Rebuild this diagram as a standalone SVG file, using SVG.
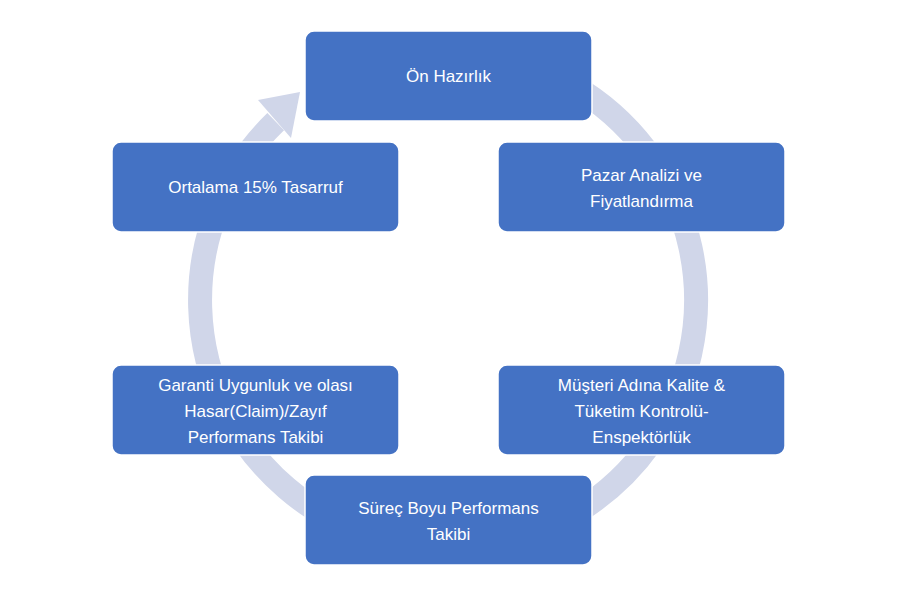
<svg xmlns="http://www.w3.org/2000/svg" width="900" height="600" viewBox="0 0 900 600">
<style>
.box{fill:#4472C4;stroke:#ffffff;stroke-width:1.5}
.t{font-family:"Liberation Sans",Arial,sans-serif;font-size:17px;fill:#ffffff;text-anchor:middle}
.ring{fill:none;stroke:#D0D6E9;stroke-width:24}
</style>
<rect width="900" height="600" fill="#ffffff"/>
<g id="connectors">
<path class="ring" d="M572,85.2 A248,248 0 1 1 275.7,121.7"/>
<polygon points="258,100 300,92 291,138" fill="#D0D6E9"/>
</g>
<g id="n1"><rect class="box" x="305" y="31" width="287" height="90" rx="9"/><text class="t" x="448.5" y="82">Ön Hazırlık</text></g>
<g id="n2"><rect class="box" x="498" y="142" width="287" height="90" rx="9"/><text class="t" x="641.5" y="181">Pazar Analizi ve</text><text class="t" x="641.5" y="207">Fiyatlandırma</text></g>
<g id="n3"><rect class="box" x="498" y="365" width="287" height="90" rx="9"/><text class="t" x="641.5" y="391">Müşteri Adına Kalite &amp;</text><text class="t" x="641.5" y="417">Tüketim Kontrolü-</text><text class="t" x="641.5" y="443">Enspektörlük</text></g>
<g id="n4"><rect class="box" x="305" y="475" width="287" height="90" rx="9"/><text class="t" x="448.5" y="514">Süreç Boyu Performans</text><text class="t" x="448.5" y="540">Takibi</text></g>
<g id="n5"><rect class="box" x="112" y="365" width="287" height="90" rx="9"/><text class="t" x="255.5" y="391">Garanti Uygunluk ve olası</text><text class="t" x="255.5" y="417">Hasar(Claim)/Zayıf</text><text class="t" x="255.5" y="443">Performans Takibi</text></g>
<g id="n6"><rect class="box" x="112" y="142" width="287" height="90" rx="9"/><text class="t" x="255.5" y="193">Ortalama 15% Tasarruf</text></g>
</svg>
